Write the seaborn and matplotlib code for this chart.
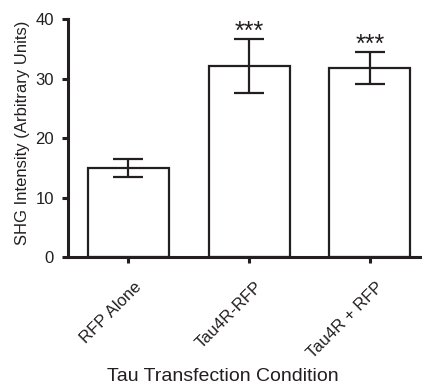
import seaborn as sns
import matplotlib.pyplot as plt
from matplotlib.transforms import ScaledTranslation

# data
conditions = ["RFP Alone", "Tau4R-RFP", "Tau4R + RFP"]
shg_mean = [15.0, 32.1, 31.7]
shg_err = [1.5, 4.6, 2.7]
signif = ["", "***", "***"]

ink = "#231f20"
sns.set_theme(style="ticks")
plt.rcParams["font.family"] = ["Liberation Sans", "DejaVu Sans"]

fig = plt.figure(figsize=(4.22, 3.88), dpi=100)
ax = fig.add_axes([0.161, 0.3376, 0.85, 0.6134])

sns.barplot(x=conditions, y=shg_mean, color="white", edgecolor=ink,
            linewidth=1.6, width=0.67, ax=ax)
ax.errorbar(range(len(conditions)), shg_mean, yerr=shg_err, fmt="none",
            ecolor=ink, elinewidth=1.6, capsize=11, capthick=1.6)

# significance stars above the error bars
for i, s in enumerate(signif):
    if s:
        ax.annotate(s, (i, shg_mean[i] + shg_err[i]), xytext=(0, 0),
                    textcoords="offset points", ha="center", va="baseline",
                    fontsize=18, color=ink)

ax.set_ylim(0, 40)
ax.set_yticks([0, 10, 20, 30, 40])
ax.set_xlim(-0.5, 2.47)
sns.despine(ax=ax)
for sp in ["left", "bottom"]:
    ax.spines[sp].set_linewidth(2.2)
    ax.spines[sp].set_color(ink)
ax.tick_params(axis="both", width=2.2, length=4, color=ink, labelcolor=ink,
               labelsize=12, pad=4)
ax.tick_params(axis="y", pad=6)
shift = ScaledTranslation(4 / 72, -8 / 72, fig.dpi_scale_trans)
for lab in ax.get_xticklabels():
    lab.set_rotation(45)
    lab.set_ha("right")
    lab.set_rotation_mode("anchor")
    lab.set_transform(lab.get_transform() + shift)
ax.set_ylabel("SHG Intensity (Arbitrary Units)", fontsize=12, color=ink,
              va="center")
ax.yaxis.set_label_coords(-0.128, 0.52)
ax.set_xlabel("Tau Transfection Condition", fontsize=14, color=ink,
              va="center")
ax.xaxis.set_label_coords(0.432, -0.50)

fig.savefig("out.png", dpi=100)
